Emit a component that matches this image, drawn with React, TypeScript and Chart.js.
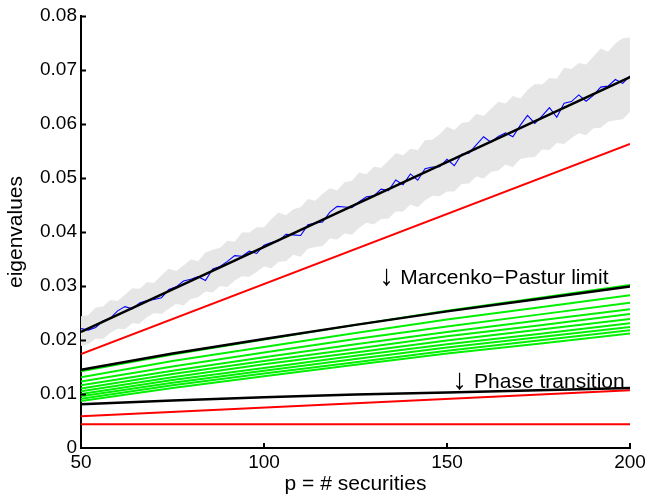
import React, { useEffect, useRef } from 'react';
import { Chart, registerables } from 'chart.js';

Chart.register(...registerables);

// ---------- data ----------
const pFine = [
  50, 52, 54, 56, 58, 60, 62, 64, 66, 68, 70, 72, 74, 76, 78, 80, 82, 84, 86, 88,
  90, 92, 94, 96, 98, 100, 102, 104, 106, 108, 110, 112, 114, 116, 118, 120, 122, 124, 126, 128,
  130, 132, 134, 136, 138, 140, 142, 144, 146, 148, 150, 152, 154, 156, 158, 160, 162, 164, 166, 168,
  170, 172, 174, 176, 178, 180, 182, 184, 186, 188, 190, 192, 194, 196, 198, 200,
];
const pCoarse = [50, 75, 100, 125, 150, 175, 200];
const pEnds = [50, 200];

const simulatedTop = [
  0.0221, 0.02183, 0.02231, 0.02354, 0.02402, 0.0254, 0.02618, 0.02576, 0.02684, 0.02732,
  0.0275, 0.02783, 0.02936, 0.02984, 0.03092, 0.03125, 0.03173, 0.03101, 0.03314, 0.03362,
  0.03455, 0.03563, 0.03551, 0.03644, 0.03602, 0.03755, 0.03803, 0.03836, 0.03959, 0.03947,
  0.03935, 0.04133, 0.04166, 0.04184, 0.04367, 0.04475, 0.04463, 0.04451, 0.04559, 0.04652,
  0.0467, 0.04793, 0.04766, 0.04964, 0.04877, 0.05075, 0.04958, 0.05171, 0.05204, 0.05207,
  0.05345, 0.05228, 0.05441, 0.05459, 0.05612, 0.05765, 0.05663, 0.05771, 0.05834, 0.05762,
  0.05975, 0.06158, 0.06011, 0.06149, 0.06302, 0.06125, 0.06383, 0.06416, 0.06539, 0.06422,
  0.0653, 0.06683, 0.06701, 0.06824, 0.06752, 0.0689,
];
const bandHigh = [
  0.0244, 0.0246, 0.026, 0.0262, 0.0274, 0.0272, 0.0284, 0.0296, 0.0295, 0.0307,
  0.0306, 0.032, 0.0332, 0.0328, 0.0338, 0.0349, 0.0346, 0.0362, 0.0367, 0.0371,
  0.0384, 0.0382, 0.0399, 0.0399, 0.0409, 0.0409, 0.0424, 0.0436, 0.0431, 0.0442,
  0.0446, 0.0461, 0.0458, 0.0471, 0.0481, 0.0477, 0.0492, 0.0495, 0.051, 0.0507,
  0.0521, 0.0519, 0.0532, 0.0546, 0.0542, 0.0554, 0.0552, 0.057, 0.0571, 0.0581,
  0.0595, 0.0589, 0.0602, 0.0604, 0.0619, 0.0615, 0.0628, 0.0641, 0.0638, 0.0652,
  0.0647, 0.0663, 0.0674, 0.0673, 0.0685, 0.0684, 0.0704, 0.0702, 0.0713, 0.071,
  0.0725, 0.074, 0.0734, 0.0749, 0.0759, 0.076,
];
const bandLow = [
  0.0189, 0.0192, 0.0203, 0.0202, 0.0213, 0.0221, 0.022, 0.0231, 0.023, 0.0242,
  0.025, 0.0248, 0.0258, 0.0267, 0.0264, 0.0276, 0.0279, 0.029, 0.0288, 0.03,
  0.0298, 0.031, 0.0318, 0.0317, 0.0326, 0.0336, 0.0333, 0.0345, 0.0346, 0.0358,
  0.0354, 0.0369, 0.0372, 0.0374, 0.0388, 0.0386, 0.0397, 0.0395, 0.0408, 0.0417,
  0.0414, 0.0424, 0.0425, 0.0438, 0.0438, 0.0451, 0.0446, 0.0459, 0.0467, 0.0466,
  0.0475, 0.0475, 0.0489, 0.049, 0.0503, 0.0499, 0.0511, 0.0514, 0.0525, 0.052,
  0.0535, 0.0538, 0.0539, 0.0553, 0.0552, 0.0565, 0.0563, 0.0574, 0.0583, 0.0579,
  0.0592, 0.0593, 0.0604, 0.0607, 0.0609, 0.0622,
];

const spikeTheory = [0.0215, 0.0687];
const spikeRed = [0.0174, 0.0563];
const lowerRed = [0.0059, 0.0107];
const noiseFloor = [0.0044, 0.0044];
const mpLimit = [0.0145, 0.0175, 0.0202, 0.0228, 0.0253, 0.0276, 0.0299];
const phaseLine = [0.0081, 0.0088, 0.0094, 0.0099, 0.0103, 0.0107, 0.0111];

const green1 = [0.0142, 0.0173, 0.0201, 0.0228, 0.0254, 0.0278, 0.0302];
const green2 = [0.0131, 0.0161, 0.0187, 0.0213, 0.0238, 0.026, 0.0283];
const green3 = [0.0123, 0.0151, 0.0177, 0.0202, 0.0225, 0.0247, 0.0269];
const green4 = [0.0116, 0.0143, 0.0168, 0.0192, 0.0215, 0.0236, 0.0257];
const green5 = [0.011, 0.0137, 0.0161, 0.0184, 0.0207, 0.0227, 0.0248];
const green6 = [0.0105, 0.0131, 0.0155, 0.0177, 0.0199, 0.0219, 0.0239];
const green7 = [0.01, 0.0126, 0.0148, 0.0171, 0.0192, 0.0211, 0.0231];
const green8 = [0.0096, 0.0121, 0.0143, 0.0165, 0.0186, 0.0205, 0.0224];
const green9 = [0.0091, 0.0116, 0.0138, 0.0159, 0.018, 0.0199, 0.0218];
const green10 = [0.0087, 0.0111, 0.0133, 0.0154, 0.0175, 0.0193, 0.0212];
const greenSeries = [green1, green2, green3, green4, green5, green6, green7, green8, green9, green10];

const xTickValues = [50, 100, 150, 200];
const yTickValues = [0, 0.01, 0.02, 0.03, 0.04, 0.05, 0.06, 0.07, 0.08];

const annotations = [
  { arrowP: 133.5, textP: 137.2, value: 0.0304, text: 'Marcenko\u2212Pastur limit' },
  { arrowP: 153.4, textP: 157.4, value: 0.0111, text: 'Phase transition' },
];

const FONT = "'Liberation Sans', Arial, Helvetica, sans-serif";

const pts = (xs: number[], ys: number[]) => xs.map((x, i) => ({ x, y: ys[i] }));

const decorPlugin = {
  id: 'decor',
  afterDatasetsDraw(chart: any) {
    const { ctx, scales } = chart;
    const x = scales.x;
    const y = scales.y;
    ctx.save();
    ctx.fillStyle = '#000';
    ctx.textBaseline = 'alphabetic';
    annotations.forEach((a) => {
      const py = y.getPixelForValue(a.value);
      ctx.font = `29px ${FONT}`;
      ctx.textAlign = 'center';
      ctx.fillText('\u2193', x.getPixelForValue(a.arrowP), py + 1);
      ctx.font = `21px ${FONT}`;
      ctx.textAlign = 'left';
      ctx.fillText(a.text, x.getPixelForValue(a.textP), py);
    });
    ctx.restore();
  },
  afterDraw(chart: any) {
    const { ctx, scales, chartArea } = chart;
    const x = scales.x;
    const y = scales.y;
    ctx.save();
    ctx.strokeStyle = '#000';
    ctx.lineWidth = 2;
    ctx.beginPath();
    yTickValues.forEach((v) => {
      if (v === 0) return;
      const py = Math.round(y.getPixelForValue(v)) + 0.5;
      ctx.moveTo(chartArea.left, py);
      ctx.lineTo(chartArea.left + 5, py);
    });
    xTickValues.forEach((v) => {
      if (v === 50) return;
      const px = Math.round(x.getPixelForValue(v));
      ctx.moveTo(px, chartArea.bottom);
      ctx.lineTo(px, chartArea.bottom - 5);
    });
    ctx.stroke();
    ctx.restore();
  },
};

export default function App() {
  const ref = useRef<HTMLCanvasElement | null>(null);

  useEffect(() => {
    if (!ref.current) return;
    const datasets: any[] = [];
    datasets.push({
      data: pts(pFine, bandHigh),
      borderWidth: 0,
      borderColor: 'rgba(0,0,0,0)',
      backgroundColor: '#e6e6e6',
      fill: '+1',
      pointRadius: 0,
      order: 100,
    });
    datasets.push({
      data: pts(pFine, bandLow),
      borderWidth: 0,
      borderColor: 'rgba(0,0,0,0)',
      fill: false,
      pointRadius: 0,
      order: 100,
    });
    greenSeries.forEach((g) => {
      datasets.push({
        data: pts(pCoarse, g),
        borderColor: '#00f000',
        borderWidth: 2,
        fill: false,
        pointRadius: 0,
        order: 50,
      });
    });
    [spikeRed, lowerRed, noiseFloor].forEach((r) => {
      datasets.push({
        data: pts(pEnds, r),
        borderColor: '#ff0000',
        borderWidth: 2,
        fill: false,
        pointRadius: 0,
        order: 40,
      });
    });
    datasets.push({
      data: pts(pFine, simulatedTop),
      borderColor: '#0000ff',
      borderWidth: 1.1,
      fill: false,
      pointRadius: 0,
      order: 30,
    });
    datasets.push({
      data: pts(pEnds, spikeTheory),
      borderColor: '#000000',
      borderWidth: 2.5,
      fill: false,
      pointRadius: 0,
      order: 10,
    });
    datasets.push({
      data: pts(pCoarse, mpLimit),
      borderColor: '#000000',
      borderWidth: 2.5,
      fill: false,
      pointRadius: 0,
      order: 10,
    });
    datasets.push({
      data: pts(pCoarse, phaseLine),
      borderColor: '#000000',
      borderWidth: 2.5,
      fill: false,
      pointRadius: 0,
      order: 10,
    });

    const chart = new Chart(ref.current, {
      type: 'line',
      data: { datasets },
      options: {
        animation: false,
        responsive: false,
        devicePixelRatio: 1,
        layout: { padding: { left: 0, right: 21, top: 16, bottom: 0 } },
        plugins: {
          legend: { display: false },
          tooltip: { enabled: false },
        },
        elements: { line: { tension: 0, borderCapStyle: 'butt' } },
        scales: {
          x: {
            type: 'linear',
            min: 50,
            max: 200,
            afterFit: (s: any) => {
              s.height = 51;
            },
            afterBuildTicks: (s: any) => {
              s.ticks = xTickValues.map((v) => ({ value: v }));
            },
            ticks: {
              color: '#000',
              font: { family: FONT, size: 19 },
              padding: 3,
              maxRotation: 0,
              callback: (v: any) => String(v),
            },
            grid: { display: true, drawOnChartArea: false, drawTicks: false, color: 'rgba(0,0,0,0)' },
            border: { display: true, color: '#000', width: 2 },
            title: {
              display: true,
              text: 'p = # securities',
              color: '#000',
              font: { family: FONT, size: 21 },
              padding: { top: 0, bottom: 2 },
            },
          },
          y: {
            type: 'linear',
            min: 0,
            max: 0.08,
            afterFit: (s: any) => {
              s.width = 81;
            },
            afterBuildTicks: (s: any) => {
              s.ticks = yTickValues.map((v) => ({ value: v }));
            },
            ticks: {
              color: '#000',
              font: { family: FONT, size: 19 },
              padding: 4,
              callback: (v: any) => (Number(v) === 0 ? '0' : Number(v).toFixed(2)),
            },
            grid: { display: true, drawOnChartArea: false, drawTicks: false, color: 'rgba(0,0,0,0)' },
            border: { display: true, color: '#000', width: 2 },
            title: {
              display: true,
              text: 'eigenvalues',
              color: '#000',
              font: { family: FONT, size: 21 },
              padding: { top: 4, bottom: 0 },
            },
          },
        },
      } as any,
      plugins: [decorPlugin],
    });
    return () => chart.destroy();
  }, []);

  return (
    <div
      style={{
        position: 'fixed',
        left: 0,
        top: 0,
        width: 651,
        height: 499,
        background: '#fff',
      }}
    >
      <canvas ref={ref} width={651} height={499} style={{ display: 'block' }} />
    </div>
  );
}
